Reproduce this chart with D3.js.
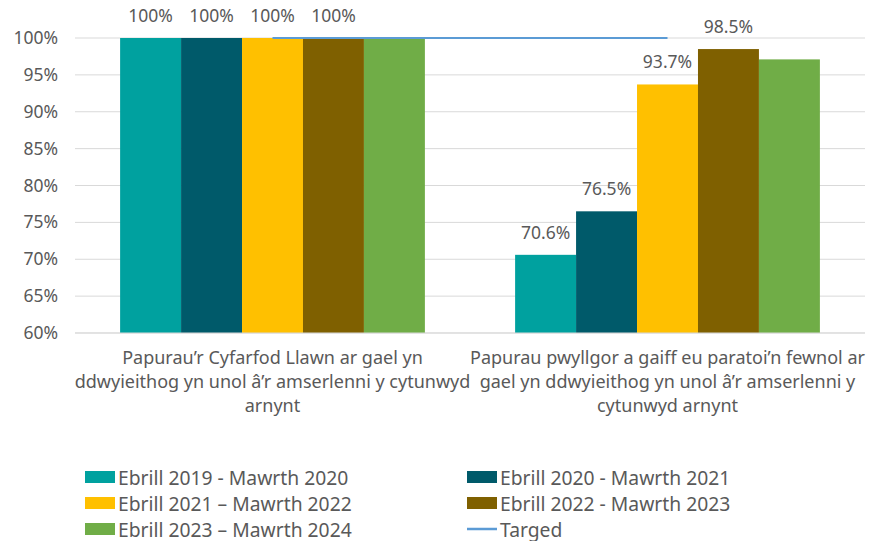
<!DOCTYPE html>
<html lang="cy">
<head>
<meta charset="UTF-8">
<title>Papurau dwyieithog</title>
<script src="https://d3js.org/d3.v7.min.js"></script>
<style>
  html, body { margin: 0; background: #fff; }
  svg text { font-family: "Noto Sans", "Open Sans", sans-serif; fill: #595959; }
</style>
</head>
<body>
<div id="chart"></div>
<script>
// data
var categories = [
  ["Papurau\u2019r Cyfarfod Llawn ar gael yn", "ddwyieithog yn unol \u00e2\u2019r amserlenni y cytunwyd", "arnynt"],
  ["Papurau pwyllgor a gaiff eu paratoi\u2019n fewnol ar", "gael yn ddwyieithog yn unol \u00e2\u2019r amserlenni y", "cytunwyd arnynt"]
];
var seriesNames = [
  "Ebrill 2019 - Mawrth 2020",
  "Ebrill 2020 - Mawrth 2021",
  "Ebrill 2021 \u2013 Mawrth 2022",
  "Ebrill 2022 - Mawrth 2023",
  "Ebrill 2023 \u2013 Mawrth 2024"
];
var seriesColors = ["#00A19F", "#005A6A", "#FFC000", "#7F6000", "#70AD47"];
// values per series: [category 1, category 2]
var values = [
  [100, 70.6],
  [100, 76.5],
  [100, 93.7],
  [100, 98.5],
  [100, 97.1]
];
// shown data labels (null = no label)
var labels = [
  ["100%", "70.6%"],
  ["100%", "76.5%"],
  ["100%", "93.7%"],
  ["100%", "98.5%"],
  [null, null]
];
var targetName = "Targed";
var target = [100, 100];
var yTicks = [60, 65, 70, 75, 80, 85, 90, 95, 100];

var width = 873, height = 541;
var margin = { top: 38, left: 75, right: 8, bottom: 208 };
var innerW = width - margin.left - margin.right;
var innerH = height - margin.top - margin.bottom;

var svg = d3.select('#chart').append('svg')
  .attr('width', width)
  .attr('height', height);

var g = svg.append('g')
  .attr('transform', 'translate(' + margin.left + ',' + margin.top + ')');

var x0 = d3.scaleBand()
  .domain(d3.range(categories.length))
  .range([0, innerW])
  .paddingInner(0)
  .paddingOuter(0);

var x1 = d3.scaleBand()
  .domain(d3.range(seriesNames.length))
  .range([0, x0.bandwidth()])
  .paddingOuter(0.74)
  .paddingInner(0);

var y = d3.scaleLinear()
  .domain([60, 100])
  .range([innerH, 0]);

// grid
g.append('g')
  .selectAll('line')
  .data(yTicks)
  .enter().append('line')
  .attr('x1', 0)
  .attr('x2', innerW)
  .attr('y1', function (d) { return y(d); })
  .attr('y2', function (d) { return y(d); })
  .attr('stroke', '#d9d9d9')
  .attr('stroke-width', 1);

// y axis
var yAxis = d3.axisLeft(y)
  .tickValues(yTicks)
  .tickSize(0)
  .tickPadding(17)
  .tickFormat(function (d) { return d + '%'; });
g.append('g')
  .attr('class', 'y axis')
  .call(yAxis)
  .call(function (s) { s.select('.domain').remove(); })
  .selectAll('text')
  .style('font-size', '17.5px')
  .style('font-family', '"Noto Sans", sans-serif')
  .attr('fill', '#595959');

// bars
var groups = g.selectAll('.grp')
  .data(categories)
  .enter().append('g')
  .attr('class', 'grp')
  .attr('transform', function (d, i) { return 'translate(' + x0(i) + ',0)'; });

groups.selectAll('rect')
  .data(function (d, ci) {
    return values.map(function (v, si) { return { s: si, c: ci, v: v[ci] }; });
  })
  .enter().append('rect')
  .attr('x', function (d) { return x1(d.s); })
  .attr('width', x1.bandwidth())
  .attr('y', function (d) { return y(d.v); })
  .attr('height', function (d) { return innerH - y(d.v); })
  .attr('fill', function (d) { return seriesColors[d.s]; });

groups.selectAll('.lbl')
  .data(function (d, ci) {
    return values.map(function (v, si) { return { s: si, c: ci, v: v[ci], t: labels[si][ci] }; })
      .filter(function (d) { return d.t; });
  })
  .enter().append('text')
  .attr('class', 'lbl')
  .attr('x', function (d) { return x1(d.s) + x1.bandwidth() / 2; })
  .attr('y', function (d) { return y(d.v) - 23; })
  .attr('text-anchor', 'middle')
  .attr('dominant-baseline', 'central')
  .style('font-size', '17.5px')
  .text(function (d) { return d.t; });

// bottom axis line
g.append('line')
  .attr('x1', 0).attr('x2', innerW)
  .attr('y1', innerH).attr('y2', innerH)
  .attr('stroke', '#d9d9d9');

// target line
var line = d3.line()
  .x(function (d, i) { return x0(i) + x0.bandwidth() / 2; })
  .y(function (d) { return y(d); });
g.append('path')
  .datum(target)
  .attr('d', line)
  .attr('fill', 'none')
  .attr('stroke', '#5B9BD5')
  .attr('stroke-width', 2);

// category labels
var cat = g.selectAll('.cat')
  .data(categories)
  .enter().append('text')
  .attr('class', 'cat')
  .attr('text-anchor', 'middle')
  .attr('x', function (d, i) { return x0(i) + x0.bandwidth() / 2; })
  .style('font-size', '18px');
cat.selectAll('tspan')
  .data(function (d) { return d; })
  .enter().append('tspan')
  .attr('x', function () { return d3.select(this.parentNode).attr('x'); })
  .attr('y', function (d, i) { return innerH + 24 + i * 24; })
  .attr('dominant-baseline', 'central')
  .text(function (d) { return d; });

// legend
var legendItems = seriesNames.map(function (n, i) { return { name: n, color: seriesColors[i], type: 'rect' }; });
legendItems.push({ name: targetName, color: '#5B9BD5', type: 'line' });

var legend = svg.append('g')
  .selectAll('.leg')
  .data(legendItems)
  .enter().append('g')
  .attr('class', 'leg')
  .attr('transform', function (d, i) {
    return 'translate(' + (i % 2 === 0 ? 85 : 467) + ',' + (477 + Math.floor(i / 2) * 26) + ')';
  });

legend.each(function (d) {
  var el = d3.select(this);
  if (d.type === 'rect') {
    el.append('rect')
      .attr('x', 0).attr('y', -6)
      .attr('width', 30).attr('height', 12)
      .attr('fill', d.color);
  } else {
    el.append('line')
      .attr('x1', 0).attr('x2', 30)
      .attr('y1', 0).attr('y2', 0)
      .attr('stroke', d.color)
      .attr('stroke-width', 2.5);
  }
  el.append('text')
    .attr('x', 33)
    .attr('y', 0)
    .attr('dominant-baseline', 'central')
    .style('font-size', '19.3px')
    .text(d.name);
});
</script>
</body>
</html>
